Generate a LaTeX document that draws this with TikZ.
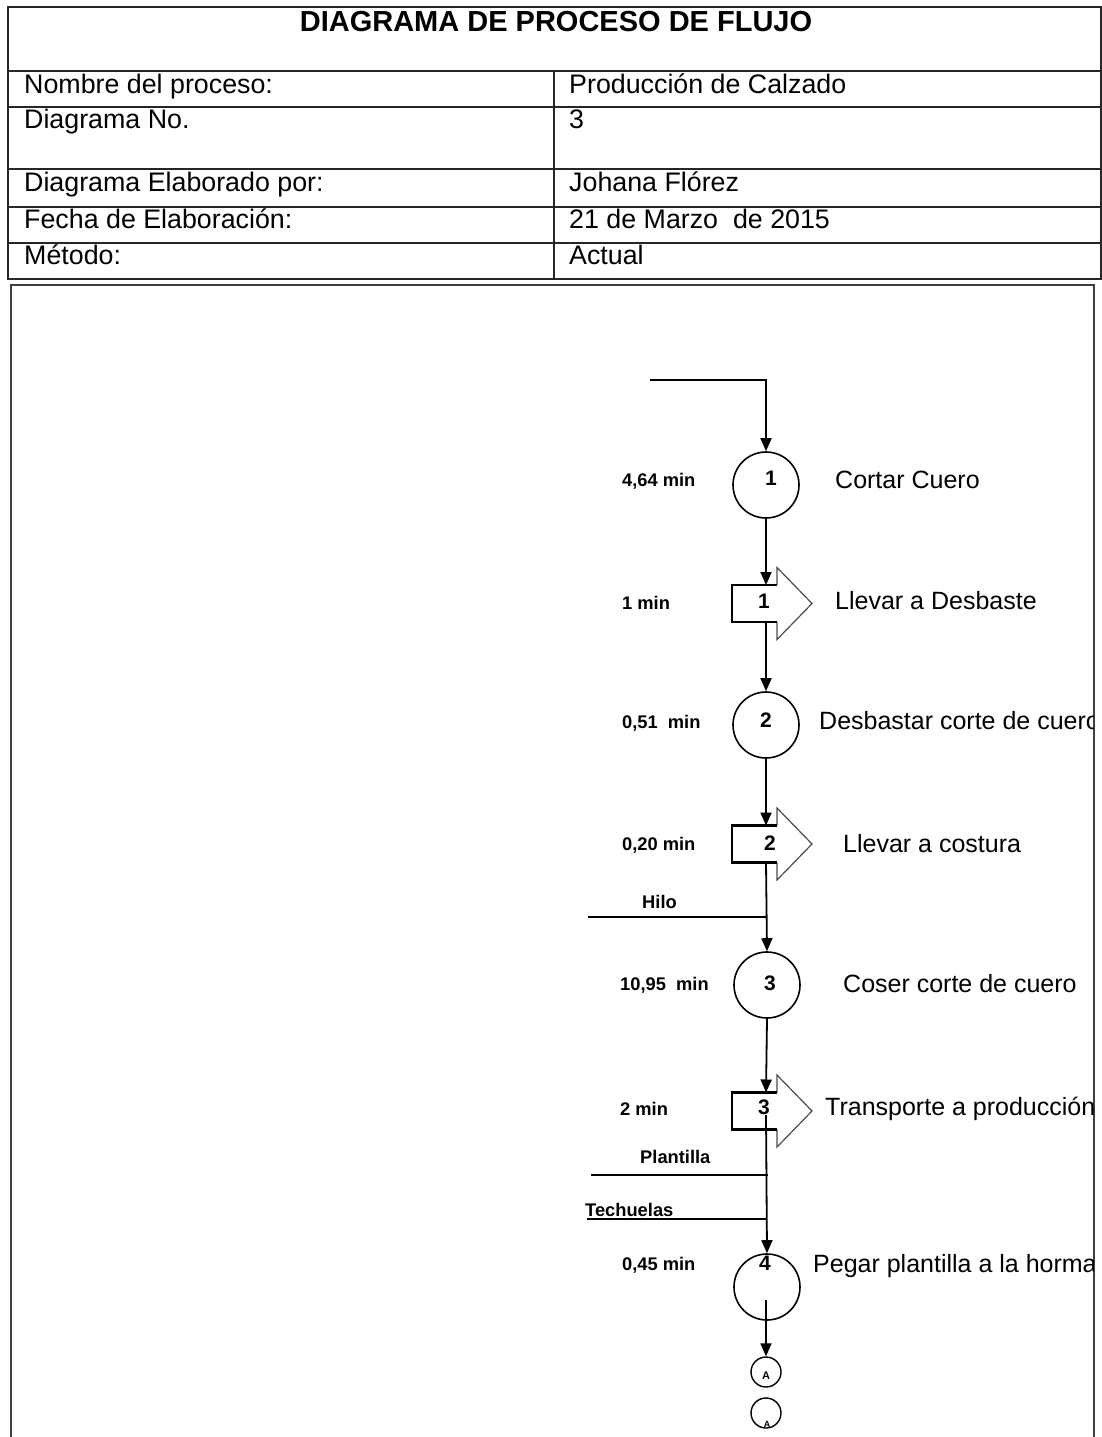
\documentclass[tikz,border=0pt]{standalone}
\usepackage{fontspec}
\setmainfont{Liberation Sans}
\usetikzlibrary{arrows.meta}

\tikzset{
  frame/.style={line width=2pt,draw=black!85},
  hdrtext/.style={anchor=base west,inner sep=0pt,font=\fontsize{26.8}{30}\selectfont},
  titletext/.style={anchor=base,inner sep=0pt,font=\bfseries\fontsize{29}{33}\selectfont},
  steptext/.style={anchor=base west,inner sep=0pt,font=\fontsize{25}{29}\selectfont},
  timetext/.style={anchor=west,inner sep=0pt,font=\bfseries\fontsize{18.3}{21}\selectfont},
  numtext/.style={inner sep=0pt,font=\bfseries\fontsize{21}{24}\selectfont},
  opcircle/.style={draw,circle,minimum size=66pt,inner sep=0pt,line width=1.6pt},
  conncircle/.style={draw,circle,minimum size=30pt,inner sep=0pt,line width=1.4pt},
  flow/.style={line width=1.8pt,-{Triangle[length=13pt,width=11pt]}},
  feed/.style={line width=1.8pt},
  transp/.pic={
    \fill[white] (0,-18.5) -- (45,-18.5) -- (45,-36) -- (80,0) -- (45,36) -- (45,18.5) -- (0,18.5) -- cycle;
    \draw[line width=1.2pt,draw=black!70] (45,18.5) -- (45,36) -- (80,0) -- (45,-36) -- (45,-18.5);
    \draw[line width=2.2pt,line join=miter] (45,-18.5) -- (0,-18.5) -- (0,18.5) -- (45,18.5);
    \coordinate (-top) at (34,-18.5);
    \coordinate (-bot) at (34,18.5);
    \coordinate (-mid) at (34,4);
  }
}

\begin{document}
\begin{tikzpicture}[x=1pt,y=-1pt]
\useasboundingbox (0,0) rectangle (1102,1437);

% header table
\draw[frame] (8,7) rectangle (1101,279);
\foreach \yy in {71,107,169,207,243} \draw[frame] (8,\yy) -- (1101,\yy);
\draw[frame] (554,71) -- (554,279);

\node[titletext] (title) at (556,32) {DIAGRAMA DE PROCESO DE FLUJO};
\node[hdrtext] (k1) at (24,93)  {Nombre del proceso:};
\node[hdrtext] (k2) at (24,128) {Diagrama No.};
\node[hdrtext] (k3) at (24,191) {Diagrama Elaborado por:};
\node[hdrtext] (k4) at (24,228) {Fecha de Elaboración:};
\node[hdrtext] (k5) at (24,264) {Método:};
\node[hdrtext] (v1) at (569,93)  {Producción de Calzado};
\node[hdrtext] (v2) at (569,128) {3};
\node[hdrtext] (v3) at (569,191) {Johana Flórez};
\node[hdrtext] (v4) at (569,228) {21 de Marzo\ \ de 2015};
\node[hdrtext] (v5) at (569,264) {Actual};

% lower frame
\draw[frame,draw=black!75] (11,1440) -- (11,285) -- (1094,285) -- (1094,1440);

% operation circles
\node[opcircle] (c1) at (766,485) {};
\node[opcircle] (c2) at (766,725) {};
\node[opcircle] (c3) at (767,985) {};
\node[opcircle] (c4) at (767,1287) {};
\node[conncircle] (a1) at (766,1372) {};
\node[conncircle] (a2) at (766,1413) {};

% transport arrows
\pic (t1) at (732,603.5) {transp};
\pic (t2) at (732,844) {transp};
\pic (t3) at (732,1111) {transp};

% numbers
\node[numtext] (n1) at (771,478) {1};
\node[numtext] (m1) at (764,601) {1};
\node[numtext] (n2) at (766,720) {2};
\node[numtext] (m2) at (770,843) {2};
\node[numtext] (n3) at (770,983) {3};
\node[numtext] (m3) at (764,1107) {3};
\node[numtext] (n4) at (765,1263) {4};
\node[inner sep=0pt,font=\bfseries\fontsize{11}{13}\selectfont] (la1) at (766,1376) {A};
\node[inner sep=0pt,font=\bfseries\fontsize{9}{11}\selectfont] (la2) at (767,1424) {A};

% connectors
\coordinate (start) at (650,380);
\draw[flow] (start) -| (c1.north);
\draw[flow] (c1.south) -- (t1-top);
\draw[flow] (t1-bot) -- (c2.north);
\draw[flow] (c2.south) -- (t2-top);
\draw[flow] (t2-bot) -- (c3.north);
\draw[flow] (c3.south) -- (t3-top);
\draw[flow] (t3-mid) -- (c4.north);
\coordinate (c4in) at (766,1300);
\draw[flow] (c4in) -- (a1.north);

% material inputs
\coordinate (hiloA) at (588,917);
\coordinate (hiloB) at (766,917);
\draw[feed] (hiloA) -- (hiloB);
\coordinate (planA) at (591,1175);
\coordinate (planB) at (768,1175);
\draw[feed] (planA) -- (planB);
\coordinate (techA) at (587,1219);
\coordinate (techB) at (766,1219);
\draw[feed] (techA) -- (techB);
\node[timetext] (hilo) at (642,902) {Hilo};
\node[timetext] (plan) at (640,1157) {Plantilla};
\node[timetext] (tech) at (585,1210) {Techuelas};

% times
\node[timetext] (d1) at (622,481)  {4,64 min};
\node[timetext] (d2) at (622,603)  {1 min};
\node[timetext] (d3) at (622,723)  {0,51\ \ min};
\node[timetext] (d4) at (622,845)  {0,20 min};
\node[timetext] (d5) at (620,985)  {10,95\ \ min};
\node[timetext] (d6) at (620,1109) {2 min};
\node[timetext] (d7) at (622,1265) {0,45 min};

% step descriptions
\begin{scope}
\clip (0,0) rectangle (1093,1437);
\node[steptext] (s1) at (835,488)  {Cortar Cuero};
\node[steptext] (s2) at (835,609)  {Llevar a Desbaste};
\node[steptext] (s3) at (819,729)  {Desbastar corte de cuero};
\node[steptext] (s4) at (843,852)  {Llevar a costura};
\node[steptext] (s5) at (843,992)  {Coser corte de cuero};
\node[steptext] (s6) at (825,1115) {Transporte a producción};
\node[steptext] (s7) at (813,1272) {Pegar plantilla a la horma};
\end{scope}
\end{tikzpicture}
\end{document}
